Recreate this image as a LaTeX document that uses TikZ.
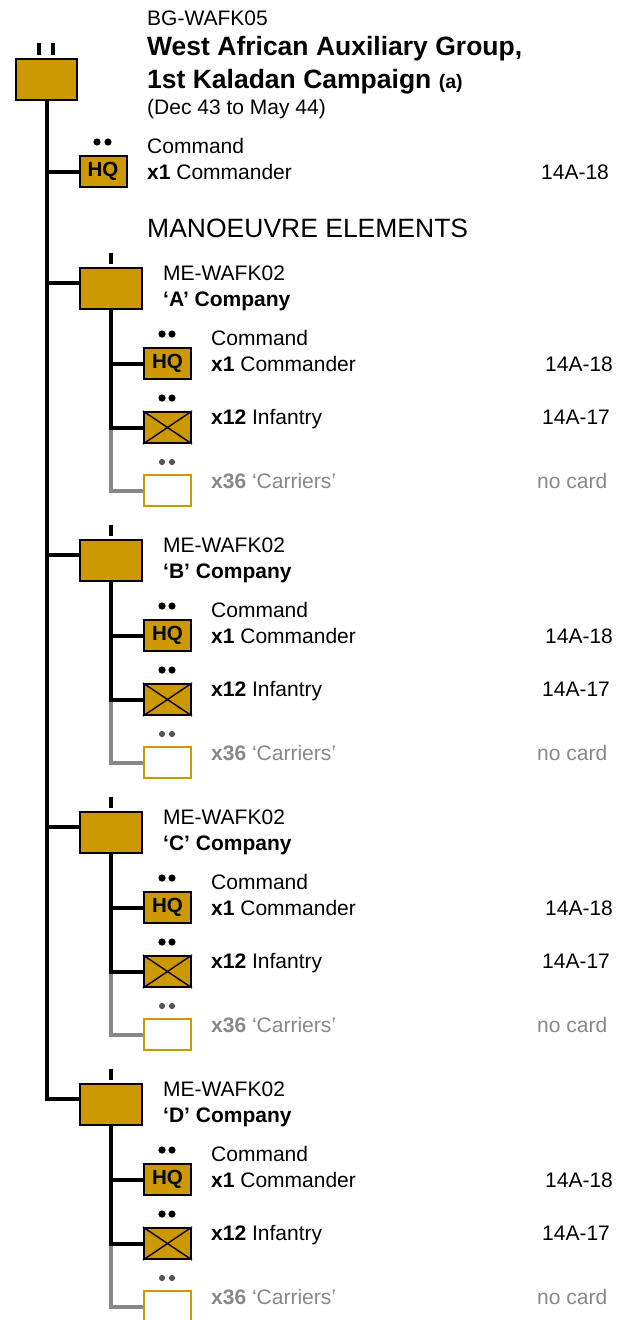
\documentclass[tikz,border=0pt]{standalone}
\usepackage{fontspec}
\setmainfont{Liberation Sans}
\definecolor{gold}{HTML}{CC9900}
\definecolor{greyline}{HTML}{868686}
\definecolor{greytext}{HTML}{888888}
\definecolor{greydot}{HTML}{555555}
\newcommand\bodyfs{\fontsize{21}{25}\selectfont}
\newcommand\bigfs{\fontsize{26.5}{30}\selectfont}
\tikzset{
  lbl/.style={anchor=base west, inner sep=0pt, font=\bodyfs},
  boxbase/.style={draw=black, line width=2pt, fill=gold, inner sep=0pt},
  compbox/.style={boxbase, minimum width=62pt, minimum height=41pt},
  unitbox/.style={boxbase, minimum width=47pt, minimum height=31pt},
  hqbox/.style={unitbox, font=\fontsize{20.5}{20}\selectfont\bfseries},
  carbox/.style={draw=gold, fill=white, line width=2pt, inner sep=0pt, minimum width=47pt, minimum height=31pt},
  link/.style={line width=4pt, black},
  glink/.style={line width=4pt, greyline},
  tickmark/.style={line width=3.3pt, black},
  crossline/.style={line width=1.4pt, black},
}
\newcommand\company[3]{%
  \node[compbox] (#1box) at (111,{#2+21.5}) {};
  \draw[tickmark] (111,{#2-14}) -- (111,{#2-3});
  \node[lbl] (#1code) at (163,{#2+13.5}) {ME-WAFK02};
  \node[lbl, font=\bodyfs\bfseries] (#1name) at (163,{#2+39}) {‘#3’ Company};
  \fill[black] (162,{#2+67}) circle (3.6pt) (172,{#2+67}) circle (3.6pt);
  \node[lbl] (#1cmd) at (211,{#2+78}) {Command};
  \node[hqbox] (#1hq) at (167.5,{#2+96.5}) {HQ};
  \node[lbl] (#1cmdr) at (211,{#2+104}) {\textbf{x1} Commander};
  \node[lbl] (#1cardA) at (545,{#2+104}) {14A-18};
  \fill[black] (162,{#2+131}) circle (3.6pt) (172,{#2+131}) circle (3.6pt);
  \node[unitbox] (#1inf) at (167.5,{#2+160.5}) {};
  \draw[crossline] (#1inf.north west) -- (#1inf.south east) (#1inf.south west) -- (#1inf.north east);
  \node[lbl] (#1inftxt) at (211,{#2+157}) {\textbf{x12} Infantry};
  \node[lbl] (#1cardB) at (542,{#2+157}) {14A-17};
  \fill[greydot] (162,{#2+195}) circle (3.1pt) (172,{#2+195}) circle (3.1pt);
  \node[carbox] (#1car) at (167.5,{#2+223.5}) {};
  \node[lbl, text=greytext] (#1cartxt) at (211,{#2+221}) {\textbf{x36} ‘Carriers’};
  \node[lbl, text=greytext] (#1cardC) at (537,{#2+221}) {no card};
  \draw[glink] (#1inf.west -| #1box.south) |- (#1car.west);
  \draw[link] (#1box.south) |- (#1inf.west);
  \draw[link] (#1hq.west) -- (#1hq.west -| #1box.south);
  \coordinate (#1j) at ([yshift=6pt]#1box.west);
}
\begin{document}
\begin{tikzpicture}[x=1pt,y=-1pt]
\useasboundingbox (0,0) rectangle (626,1320);
\clip (0,0) rectangle (626,1320);
\fill[white] (0,0) rectangle (626,1320);
% top formation
\node[boxbase, minimum width=61pt, minimum height=41pt] (top) at (46.5,79.5) {};
\draw[tickmark] (39,43) -- (39,55) (53,43) -- (53,55);
\node[lbl] (bg) at (147,25) {BG-WAFK05};
\node[lbl, font=\bigfs\bfseries] (title1) at (147,55) {West African Auxiliary Group,};
\node[lbl, font=\bigfs\bfseries] (title2) at (147,88) {1st Kaladan Campaign {\fontsize{19.5}{20}\selectfont(a)}};
\node[lbl] (dates) at (147,114) {(Dec 43 to May 44)};
\fill[black] (97,142) circle (3.6pt) (108,142) circle (3.6pt);
\node[hqbox] (hq0) at (103,171.5) {HQ};
\node[lbl] (cmd0) at (147,153) {Command};
\node[lbl] (cmdr0) at (147,179) {\textbf{x1} Commander};
\node[lbl] (card0) at (541,179) {14A-18};
\node[lbl, font=\bigfs] (me) at (147,237) {MANOEUVRE ELEMENTS};
% companies
\company{A}{267}{A}
\company{B}{539}{B}
\company{C}{811}{C}
\company{D}{1083}{D}
% main line
\draw[link] (top.south) |- (Dj);
\draw[link] (hq0.west) -- (hq0.west -| top.south);
\draw[link] (Aj) -- (Aj -| top.south);
\draw[link] (Bj) -- (Bj -| top.south);
\draw[link] (Cj) -- (Cj -| top.south);
\end{tikzpicture}
\end{document}
